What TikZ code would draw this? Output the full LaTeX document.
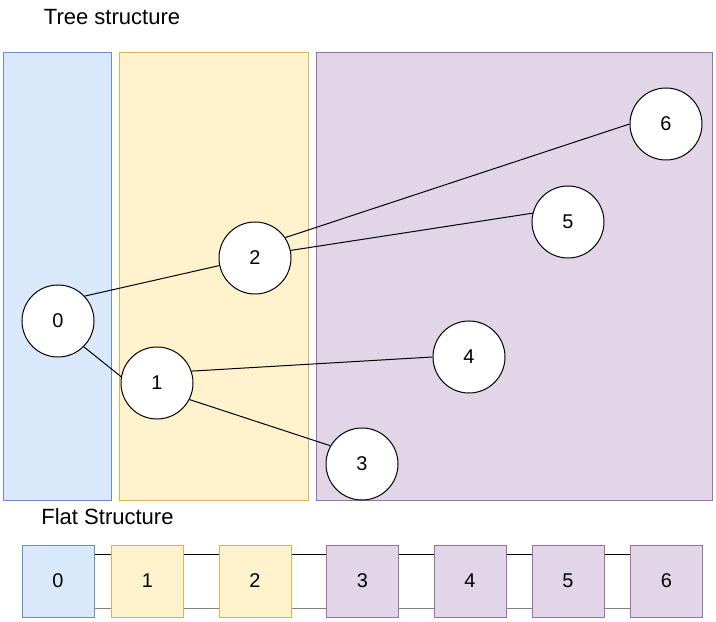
\documentclass[tikz,border=0pt]{standalone}
\usepackage{fontspec}
\setmainfont{Liberation Sans}
\definecolor{blueFill}{HTML}{DAE8FC}
\definecolor{blueLine}{HTML}{6C8EBF}
\definecolor{yellowFill}{HTML}{FFF2CC}
\definecolor{yellowLine}{HTML}{D6B656}
\definecolor{purpleFill}{HTML}{E1D5E7}
\definecolor{purpleLine}{HTML}{9673A6}
\begin{document}
\begin{tikzpicture}[
 x=0.03cm,
 y=-0.03cm,
 line width=0.85pt,
 inner sep=0pt,
 title/.style={font=\fontsize{18.8}{22}\selectfont},
 area/.style={draw,rectangle,minimum height=13.41cm},
 blue/.style={area,fill=blueFill,draw=blueLine},
 yellow/.style={area,fill=yellowFill,draw=yellowLine},
 purple/.style={area,fill=purpleFill,draw=purpleLine},
 elem/.style={draw=black,circle,fill=white,minimum size=2.16cm,font=\fontsize{17}{20}\selectfont},
 cell/.style={rectangle,minimum width=2.16cm,minimum height=2.16cm,font=\fontsize{17}{20}\selectfont},
 next/.style={draw=black},
 prev/.style={draw=gray}
]
\useasboundingbox (0,0) rectangle (716,622);
\node (tree-title) [title] at (112,17) {Tree structure};
\node (level0-area) [blue,minimum width=3.21cm] at (57.5,276.5) {};
\node (level1-area) [yellow,minimum width=5.64cm] at (214,276.5) {};
\node (level2-area) [purple,minimum width=11.85cm] at (514.5,276.5) {};
\node (tree0-circle) [elem] at (58,321) {0};
\node (tree1-circle) [elem] at (157,383) {1};
\node (tree2-circle) [elem] at (255,258) {2};
\node (tree3-circle) [elem] at (362,464) {3};
\node (tree4-circle) [elem] at (469,357) {4};
\node (tree5-circle) [elem] at (568,222) {5};
\node (tree6-circle) [elem] at (666,124) {6};
\draw (tree0-circle.43) -- (tree2-circle.192);
\draw (tree0-circle.-45) -- (tree1-circle.170);
\draw (tree1-circle.19) -- (tree4-circle.180);
\draw (tree1-circle.-27) -- (tree3-circle.150);
\draw (tree2-circle.12) -- (tree5-circle.166);
\draw (tree2-circle.34) -- (tree6-circle.180);
\node (flat-title) [title] at (107.5,517) {Flat Structure};
\node (flat0-box) [cell,fill=blueFill,draw=blueLine] at (58,581) {0};
\node (flat1-box) [cell,fill=yellowFill,draw=yellowLine] at (147.5,581) {1};
\node (flat2-box) [cell,fill=yellowFill,draw=yellowLine] at (255,581) {2};
\node (flat3-box) [cell,fill=purpleFill,draw=purpleLine] at (362.5,581) {3};
\node (flat4-box) [cell,fill=purpleFill,draw=purpleLine] at (470,581) {4};
\node (flat5-box) [cell,fill=purpleFill,draw=purpleLine] at (568,581) {5};
\node (flat6-box) [cell,fill=purpleFill,draw=purpleLine] at (666.5,581) {6};
\draw [next] ([yshift=0.81cm]flat0-box.east) -- ([yshift=0.81cm]flat1-box.west);
\draw [prev] ([yshift=-0.81cm]flat0-box.east) -- ([yshift=-0.81cm]flat1-box.west);
\draw [next] ([yshift=0.81cm]flat1-box.east) -- ([yshift=0.81cm]flat2-box.west);
\draw [prev] ([yshift=-0.81cm]flat1-box.east) -- ([yshift=-0.81cm]flat2-box.west);
\draw [next] ([yshift=0.81cm]flat2-box.east) -- ([yshift=0.81cm]flat3-box.west);
\draw [prev] ([yshift=-0.81cm]flat2-box.east) -- ([yshift=-0.81cm]flat3-box.west);
\draw [next] ([yshift=0.81cm]flat3-box.east) -- ([yshift=0.81cm]flat4-box.west);
\draw [prev] ([yshift=-0.81cm]flat3-box.east) -- ([yshift=-0.81cm]flat4-box.west);
\draw [next] ([yshift=0.81cm]flat4-box.east) -- ([yshift=0.81cm]flat5-box.west);
\draw [prev] ([yshift=-0.81cm]flat4-box.east) -- ([yshift=-0.81cm]flat5-box.west);
\draw [next] ([yshift=0.81cm]flat5-box.east) -- ([yshift=0.81cm]flat6-box.west);
\draw [prev] ([yshift=-0.81cm]flat5-box.east) -- ([yshift=-0.81cm]flat6-box.west);
\end{tikzpicture}
\end{document}
